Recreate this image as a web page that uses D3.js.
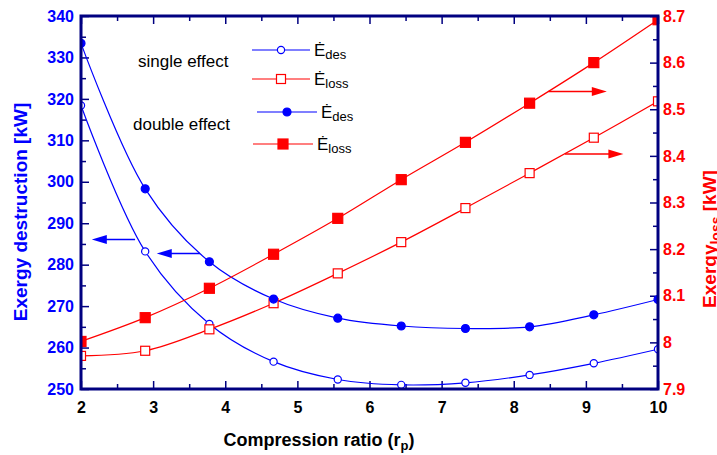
<!DOCTYPE html>
<html lang="en">
<head>
  <meta charset="UTF-8">
  <title>Exergy vs compression ratio</title>
  <script src="https://d3js.org/d3.v7.min.js"></script>
  <style>
    body { margin: 0; background: #fff; }
    text { font-family: "Liberation Sans", Arial, sans-serif; }
  </style>
</head>
<body>
  <div id="root"></div>
  <script>
    // data
    const rp = [2, 2.89, 3.78, 4.67, 5.56, 6.44, 7.33, 8.22, 9.11, 10]
    const singleDes = [318.4, 283.2, 265.7, 256.6, 252.3, 251.0, 251.5, 253.4, 256.2, 259.6]
    const doubleDes = [333.4, 298.3, 280.7, 271.7, 267.1, 265.2, 264.6, 265.0, 267.9, 271.6]
    const singleLoss = [7.971, 7.982, 8.028, 8.084, 8.148, 8.215, 8.288, 8.363, 8.439, 8.517]
    const doubleLoss = [8.002, 8.053, 8.116, 8.189, 8.266, 8.349, 8.429, 8.513, 8.600, 8.692]

    const xTicks = [2, 3, 4, 5, 6, 7, 8, 9, 10]
    const leftTicks = [250, 260, 270, 280, 290, 300, 310, 320, 330, 340]
    const rightTicks = [7.9, 8, 8.1, 8.2, 8.3, 8.4, 8.5, 8.6, 8.7]

    const width = 717
    const height = 455
    const margin = {top: 16, right: 59, bottom: 66, left: 81}
    const iw = width - margin.left - margin.right
    const ih = height - margin.top - margin.bottom

    const BLUE = '#0000ff'
    const RED = '#ff0000'
    const NAVY = '#000080'

    const svg = d3.select('#root').append('svg')
      .attr('width', width)
      .attr('height', height)

    const x = d3.scaleLinear().domain([2, 10]).range([0, iw])
    const yL = d3.scaleLinear().domain([250, 340]).range([ih, 0])
    const yR = d3.scaleLinear().domain([7.9, 8.7]).range([ih, 0])

    const g = svg.append('g').attr('transform', `translate(${margin.left},${margin.top})`)

    svg.append('defs').append('clipPath').attr('id', 'clip')
      .append('rect').attr('width', iw).attr('height', ih)

    // 刻度 (ticks point inward)
    const minorX = d3.range(2.5, 10, 1)
    const minorL = d3.range(255, 340, 10)
    const minorR = d3.range(7.95, 8.7, 0.1)

    function styleAxis(sel, color, size) {
      sel.select('.domain').remove()
      sel.selectAll('.tick line').attr('stroke', NAVY).attr('stroke-width', 1.5)
      sel.selectAll('.tick text')
        .attr('fill', color)
        .attr('font-size', size)
        .attr('font-weight', 'bold')
        .attr('font-family', '"Liberation Sans", Arial, sans-serif')
    }

    const xAxisG = g.append('g').attr('transform', `translate(0,${ih})`)
      .call(d3.axisBottom(x).tickValues(xTicks).tickSize(-8).tickPadding(0).tickFormat(d => d))
    styleAxis(xAxisG, '#000', 16)
    xAxisG.selectAll('.tick text').attr('y', 24).attr('dy', 0)
    g.append('g').attr('transform', `translate(0,${ih})`)
      .call(d3.axisBottom(x).tickValues(minorX).tickSize(-5).tickFormat(''))
      .call(s => styleAxis(s, '#000', 16))
    g.append('g').call(d3.axisTop(x).tickValues(xTicks).tickSize(-8).tickFormat(''))
      .call(s => styleAxis(s, '#000', 16))
    g.append('g').call(d3.axisTop(x).tickValues(minorX).tickSize(-5).tickFormat(''))
      .call(s => styleAxis(s, '#000', 16))

    g.append('g').call(d3.axisLeft(yL).tickValues(leftTicks).tickSize(-8).tickPadding(7).tickFormat(d => d))
      .call(s => styleAxis(s, BLUE, 16))
    g.append('g').call(d3.axisLeft(yL).tickValues(minorL).tickSize(-5).tickFormat(''))
      .call(s => styleAxis(s, BLUE, 16))
    g.append('g').attr('transform', `translate(${iw},0)`)
      .call(d3.axisRight(yR).tickValues(rightTicks).tickSize(-8).tickPadding(5).tickFormat(d => d))
      .call(s => styleAxis(s, RED, 16))
    g.append('g').attr('transform', `translate(${iw},0)`)
      .call(d3.axisRight(yR).tickValues(minorR).tickSize(-5).tickFormat(''))
      .call(s => styleAxis(s, RED, 16))

    // 曲线和标记
    const series = [
      {vals: singleDes, y: yL, color: BLUE, shape: 'circle', filled: false},
      {vals: singleLoss, y: yR, color: RED, shape: 'square', filled: false},
      {vals: doubleDes, y: yL, color: BLUE, shape: 'circle', filled: true},
      {vals: doubleLoss, y: yR, color: RED, shape: 'square', filled: true},
    ]

    const plot = g.append('g').attr('clip-path', 'url(#clip)')

    series.forEach(s => {
      const pts = rp.map((r, i) => [r, s.vals[i]])
      const line = d3.line()
        .x(d => x(d[0]))
        .y(d => s.y(d[1]))
        .curve(d3.curveCatmullRom.alpha(0.5))
      plot.append('path').datum(pts)
        .attr('fill', 'none')
        .attr('stroke', s.color)
        .attr('stroke-width', 1.2)
        .attr('d', line)
    })

    function drawMarker(sel, shape, filled, color) {
      if (shape === 'circle') {
        sel.append('circle')
          .attr('r', filled ? 4 : 3.6)
          .attr('fill', filled ? color : '#fff')
          .attr('stroke', color)
          .attr('stroke-width', 1.2)
      } else {
        const s = filled ? 10 : 9
        sel.append('rect')
          .attr('x', -s / 2).attr('y', -s / 2)
          .attr('width', s).attr('height', s)
          .attr('fill', filled ? color : '#fff')
          .attr('stroke', color)
          .attr('stroke-width', 1.2)
      }
    }

    series.forEach(s => {
      plot.selectAll(null)
        .data(rp.map((r, i) => [r, s.vals[i]]))
        .enter()
        .append('g')
        .attr('transform', d => `translate(${x(d[0])},${s.y(d[1])})`)
        .each(function () { drawMarker(d3.select(this), s.shape, s.filled, s.color) })
    })

    // 箭头 (which axis each family belongs to)
    const arrows = [
      {from: [2.75, 286.1], to: [2.15, 286.1], y: yL, color: BLUE},
      {from: [3.65, 282.7], to: [3.05, 282.7], y: yL, color: BLUE},
      {from: [8.48, 8.538], to: [9.29, 8.538], y: yR, color: RED},
      {from: [8.71, 8.404], to: [9.52, 8.404], y: yR, color: RED},
    ]
    arrows.forEach(a => {
      const x1 = x(a.from[0]), x2 = x(a.to[0]), yy = a.y(a.from[1])
      const dir = Math.sign(x2 - x1)
      g.append('line')
        .attr('x1', x1).attr('x2', x2 - dir * 10)
        .attr('y1', yy).attr('y2', yy)
        .attr('stroke', a.color).attr('stroke-width', 1.5)
      g.append('path')
        .attr('d', `M${x2},${yy} L${x2 - dir * 15},${yy - 4.5} L${x2 - dir * 15},${yy + 4.5} Z`)
        .attr('fill', a.color)
    })

    // 边框
    g.append('rect')
      .attr('width', iw).attr('height', ih)
      .attr('fill', 'none')
      .attr('stroke', NAVY)
      .attr('stroke-width', 3)

    // 图例
    const legend = svg.append('g')
    const legendRows = [
      {y: 50, x1: 252, x2: 310, shape: 'circle', filled: false, color: BLUE, sub: 'des'},
      {y: 79, x1: 252, x2: 310, shape: 'square', filled: false, color: RED, sub: 'loss'},
      {y: 112, x1: 257, x2: 317, shape: 'circle', filled: true, color: BLUE, sub: 'des'},
      {y: 144, x1: 253, x2: 313, shape: 'square', filled: true, color: RED, sub: 'loss'},
    ]
    legendRows.forEach(r => {
      legend.append('line')
        .attr('x1', r.x1).attr('x2', r.x2)
        .attr('y1', r.y).attr('y2', r.y)
        .attr('stroke', r.color).attr('stroke-width', 1.2)
      const m = legend.append('g').attr('transform', `translate(${(r.x1 + r.x2) / 2},${r.y})`)
      drawMarker(m, r.shape, r.filled, r.color)
      const t = legend.append('text')
        .attr('x', r.x2 + 4).attr('y', r.y + 6)
        .attr('font-size', 17)
        .attr('fill', '#000')
      t.append('tspan').text('Ė')
      t.append('tspan').attr('font-size', 13).attr('dy', 3).text(r.sub)
    })
    legend.append('text').attr('x', 138).attr('y', 67)
      .attr('font-size', 17).text('single effect')
    legend.append('text').attr('x', 133).attr('y', 130)
      .attr('font-size', 17).text('double effect')

    // 轴标题
    const xt = svg.append('text')
      .attr('x', 319).attr('y', 446)
      .attr('text-anchor', 'middle')
      .attr('font-size', 18).attr('font-weight', 'bold')
    xt.append('tspan').text('Compression ratio (r')
    xt.append('tspan').attr('font-size', 13).attr('dy', 4).text('p')
    xt.append('tspan').attr('dy', -4).text(')')

    svg.append('text')
      .attr('transform', 'translate(27,212) rotate(-90)')
      .attr('text-anchor', 'middle')
      .attr('font-size', 19).attr('font-weight', 'bold')
      .attr('fill', BLUE)
      .text('Exergy destruction [kW]')

    const rt = svg.append('text')
      .attr('transform', 'translate(716,239) rotate(-90)')
      .attr('text-anchor', 'middle')
      .attr('font-size', 19).attr('font-weight', 'bold')
      .attr('fill', RED)
    rt.append('tspan').text('Exergy')
    rt.append('tspan').attr('font-size', 14).attr('dy', 5).text('loss')
    rt.append('tspan').attr('dy', -5).text(' [kW]')
  </script>
</body>
</html>
